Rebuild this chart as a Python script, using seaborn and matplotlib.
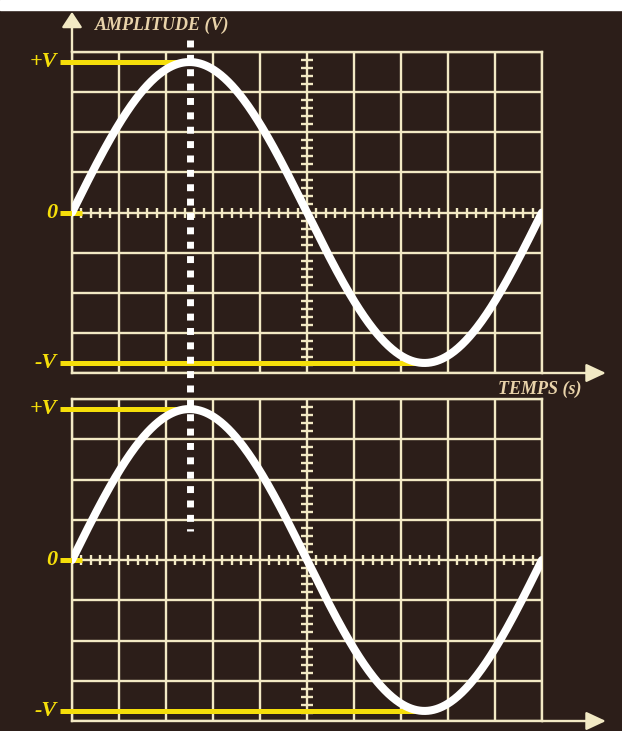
import numpy as np
import pandas as pd
import matplotlib
matplotlib.use('Agg')
import matplotlib.pyplot as plt
import seaborn as sns

# couleurs
BG = '#2c1e19'
GRID = '#f2e9c4'
YELLOW = '#f5de0a'
TXT = '#e9d3aa'

# donnees (unites = divisions de la grille)
periode = 10.0          # une periode sur les 10 divisions horizontales
amplitude = 3.75        # +V / -V un peu sous la derniere ligne (4 div)
n_div_x = 10
n_div_y = 4
niveaux = [amplitude, 0.0, -amplitude]
etiquettes = ['+V', '0', '-V']
fin_jaune = [periode / 4, 0.22, 3 * periode / 4]   # ou s'arretent les traits jaunes

t = np.linspace(0, periode, 500)
df = pd.DataFrame({'temps': t, 'tension': amplitude * np.sin(2 * np.pi * t / periode)})

sns.set_style('dark', rc={'axes.facecolor': BG, 'figure.facecolor': BG})
plt.rcParams['font.family'] = ['Liberation Serif', 'DejaVu Serif']

fig = plt.figure(figsize=(6.22, 7.31), dpi=100)
fig.patch.set_facecolor(BG)
# bande blanche du scan en haut
fig.patches.append(plt.Rectangle((0, 1 - 10 / 731), 1, 10 / 731, transform=fig.transFigure,
                                 color='white', zorder=-1))

ax_top = fig.add_axes([72 / 622, 1 - 373 / 731, 470 / 622, 321 / 731])
ax_bot = fig.add_axes([72 / 622, 1 - 721 / 731, 470 / 622, 322 / 731])
ax_top.set_zorder(2)

for ax in (ax_top, ax_bot):
    ax.set_facecolor(BG)
    ax.set_xlim(0, n_div_x)
    ax.set_ylim(-n_div_y, n_div_y)
    ax.set_xticks(range(n_div_x + 1))
    ax.set_yticks(range(-n_div_y, n_div_y + 1))
    ax.grid(True, color=GRID, lw=1.7, zorder=1)
    ax.tick_params(length=0, labelbottom=False, labelleft=False)
    for s in ax.spines.values():
        s.set_visible(True)
        s.set_color(GRID)
        s.set_linewidth(1.7)
    ax.set_axisbelow(True)

    # graduations fines sur l'axe 0 et sur la ligne centrale
    sub_x = [v for v in np.arange(0, n_div_x, 0.2) if abs(v - round(v)) > 1e-6]
    sub_y = [v for v in np.arange(-n_div_y, n_div_y, 0.2) if abs(v - round(v)) > 1e-6]
    ax.plot(sub_x, [0] * len(sub_x), ls='none', marker='|', ms=7, mew=1.7, color=GRID, zorder=2)
    ax.plot([n_div_x / 2] * len(sub_y), sub_y, ls='none', marker='_', ms=8, mew=1.7, color=GRID, zorder=2)

    # traits jaunes +V / 0 / -V
    for lvl, lab, fin in zip(niveaux, etiquettes, fin_jaune):
        ax.plot([-0.26, fin], [lvl, lvl], color=YELLOW, lw=3.6, solid_capstyle='butt',
                clip_on=False, zorder=3)
        ax.text(-0.32, lvl, lab, color=YELLOW, fontsize=16, fontweight='bold', fontstyle='italic',
                ha='right', va='center', clip_on=False)

    sns.lineplot(data=df, x='temps', y='tension', ax=ax, color='white', lw=5.8, zorder=4)
    ax.set_xlabel('')
    ax.set_ylabel('')

# pointille vertical au maximum (traverse les deux ecrans)
ax_top.plot([periode / 4, periode / 4], [4.29, -7.95], color='white', lw=5, dashes=(1, 1.07),
            dash_capstyle='butt', clip_on=False, zorder=5)

arrow_y = dict(arrowstyle='-|>,head_length=0.47,head_width=0.31', mutation_scale=20,
               color=GRID, lw=1.7, shrinkA=0, shrinkB=0)
arrow_x = dict(arrowstyle='-|>,head_length=0.6,head_width=0.28', mutation_scale=20,
               color=GRID, lw=1.7, shrinkA=0, shrinkB=0)
ax_top.annotate('', xy=(0, 1.125), xytext=(0, 1.0), xycoords='axes fraction',
                arrowprops=arrow_y, annotation_clip=False)
ax_top.annotate('', xy=(1.136, 0), xytext=(1.0, 0), xycoords='axes fraction',
                arrowprops=arrow_x, annotation_clip=False)
ax_bot.annotate('', xy=(1.136, 0), xytext=(1.0, 0), xycoords='axes fraction',
                arrowprops=arrow_x, annotation_clip=False)

ax_top.text(0.049, 1.084, 'AMPLITUDE (V)', transform=ax_top.transAxes, color=TXT,
            fontsize=13, fontweight='bold', fontstyle='italic', ha='left', va='center')
ax_top.text(0.906, -0.05, 'TEMPS (s)', transform=ax_top.transAxes, color=TXT,
            fontsize=13, fontweight='bold', fontstyle='italic', ha='left', va='center')

fig.savefig('out.png', dpi=100, facecolor=BG)
